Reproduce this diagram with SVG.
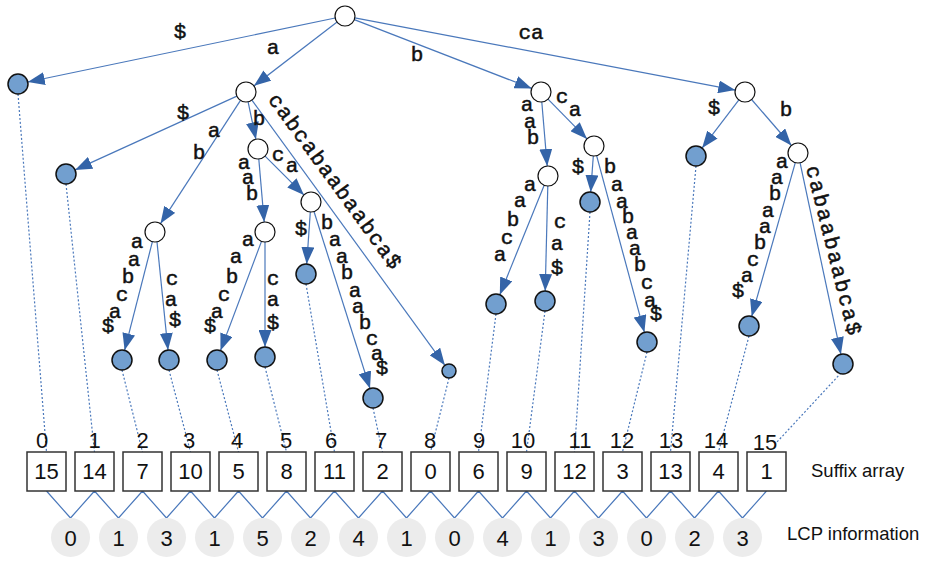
<svg xmlns="http://www.w3.org/2000/svg" width="930" height="571" viewBox="0 0 930 571">
<defs>
<marker id="arr" markerUnits="userSpaceOnUse" markerWidth="17" markerHeight="13" refX="17" refY="6.5" orient="auto">
<path d="M0,0 L17,6.5 L0,13 z" fill="#3464a8"/>
</marker>
<style>
.e{stroke:#4a78bb;stroke-width:1.2;fill:none;marker-end:url(#arr)}
.d{stroke:#4a78bb;stroke-width:1.2;fill:none;stroke-dasharray:2 2}
.z{stroke:#4a78bb;stroke-width:1.2;fill:none}
.in{fill:#fff;stroke:#111;stroke-width:1.2}
.lf{fill:#729fcf;stroke:#111;stroke-width:1.5}
.lb{font-family:"Liberation Mono",monospace;font-size:21px;fill:#111;stroke:#111;stroke-width:0.5;text-anchor:middle;dominant-baseline:central}
.rl{font-family:"Liberation Mono",monospace;font-size:21px;fill:#111;stroke:#111;stroke-width:0.5;text-anchor:middle}
.bx{fill:#fff;stroke:#333;stroke-width:1.5}
.n{font-family:"Liberation Sans",Arial,sans-serif;font-size:22px;fill:#111;text-anchor:middle}
.lc{fill:#ececec}
.cap{font-family:"Liberation Sans",Arial,sans-serif;font-size:18.5px;fill:#111}
</style>
</defs>
<rect width="930" height="571" fill="#fff"/>

<g id="connectors">
<line class="e" x1="335.2" y1="18" x2="27.8" y2="82"/>
<line class="e" x1="337.1" y1="22.1" x2="253.9" y2="85.9"/>
<line class="e" x1="354.3" y1="19.6" x2="531.7" y2="88.4"/>
<line class="e" x1="354.8" y1="17.9" x2="735.2" y2="90.1"/>
<line class="e" x1="236.9" y1="96.1" x2="75.1" y2="169.9"/>
<line class="e" x1="240.5" y1="100.4" x2="160.5" y2="223.6"/>
<line class="e" x1="248.1" y1="101.8" x2="255.9" y2="139.2"/>
<line class="e" x1="251.9" y1="100.1" x2="444.9" y2="365.3"/>
<line class="e" x1="152.4" y1="241.7" x2="124.6" y2="350.3"/>
<line class="e" x1="157" y1="242" x2="168" y2="350"/>
<line class="e" x1="258.8" y1="159" x2="264.2" y2="222"/>
<line class="e" x1="265.1" y1="156.1" x2="303.9" y2="194.9"/>
<line class="e" x1="261.5" y1="241.4" x2="220.5" y2="350.6"/>
<line class="e" x1="265" y1="242" x2="265" y2="347"/>
<line class="e" x1="310.3" y1="212" x2="306.7" y2="264"/>
<line class="e" x1="314" y1="211.5" x2="370" y2="388.5"/>
<line class="e" x1="541.8" y1="102" x2="547.2" y2="166"/>
<line class="e" x1="548" y1="99.1" x2="587" y2="138.9"/>
<line class="e" x1="544.2" y1="185.3" x2="499.8" y2="294.7"/>
<line class="e" x1="547.8" y1="186" x2="545.2" y2="291"/>
<line class="e" x1="593.3" y1="156" x2="590.7" y2="192"/>
<line class="e" x1="596.6" y1="155.7" x2="644.4" y2="332.3"/>
<line class="e" x1="738.9" y1="99.9" x2="702.1" y2="148.1"/>
<line class="e" x1="751.6" y1="99.5" x2="791.4" y2="145.5"/>
<line class="e" x1="795.3" y1="162.6" x2="751.7" y2="316.4"/>
<line class="e" x1="800.1" y1="162.8" x2="840.9" y2="354.2"/>

<line class="d" x1="18" y1="94" x2="46.5" y2="452"/>
<line class="d" x1="66" y1="184" x2="94.5" y2="452"/>
<line class="d" x1="122" y1="370" x2="142.5" y2="452"/>
<line class="d" x1="169" y1="370" x2="190.5" y2="452"/>
<line class="d" x1="217" y1="370" x2="238.5" y2="452"/>
<line class="d" x1="265" y1="367" x2="286.5" y2="452"/>
<line class="d" x1="306" y1="284" x2="334.5" y2="452"/>
<line class="d" x1="373" y1="408" x2="382.5" y2="452"/>
<line class="d" x1="449" y1="378" x2="430.5" y2="452"/>
<line class="d" x1="496" y1="314" x2="478.5" y2="452"/>
<line class="d" x1="545" y1="311" x2="526.5" y2="452"/>
<line class="d" x1="590" y1="212" x2="574.5" y2="452"/>
<line class="d" x1="647" y1="352" x2="622.5" y2="452"/>
<line class="d" x1="696" y1="166" x2="670.5" y2="452"/>
<line class="d" x1="749" y1="336" x2="718.5" y2="452"/>
<line class="d" x1="841" y1="373" x2="777" y2="442"/>

<polyline class="z" points="46.5,491 70.5,518 94.5,491 118.5,518 142.5,491 166.5,518 190.5,491 214.5,518 238.5,491 262.5,518 286.5,491 310.5,518 334.5,491 358.5,518 382.5,491 406.5,518 430.5,491 454.5,518 478.5,491 502.5,518 526.5,491 550.5,518 574.5,491 598.5,518 622.5,491 646.5,518 670.5,491 694.5,518 718.5,491 742.5,518 766.5,491"/>
</g>

<g id="edge-labels">
<text class="lb" x="180" y="32">$</text>
<text class="lb" x="273" y="48">a</text>
<text class="lb" x="417" y="55">b</text>
<text class="lb" x="531" y="33">ca</text>
<text class="lb" x="183" y="113">$</text>
<text class="lb" x="214" y="131">a</text>
<text class="lb" x="199" y="153">b</text>
<text class="lb" x="259" y="119">b</text>
<text class="lb" x="244" y="163">a</text>
<text class="lb" x="248" y="178">a</text>
<text class="lb" x="252" y="194">b</text>
<text class="lb" x="278" y="155">c</text>
<text class="lb" x="292" y="166">a</text>
<text class="lb" x="137" y="242">a</text>
<text class="lb" x="134" y="260">a</text>
<text class="lb" x="128" y="277">b</text>
<text class="lb" x="122" y="295">c</text>
<text class="lb" x="115" y="312">a</text>
<text class="lb" x="108" y="326">$</text>
<text class="lb" x="172" y="279">c</text>
<text class="lb" x="171" y="300">a</text>
<text class="lb" x="175" y="320">$</text>
<text class="lb" x="248" y="240">a</text>
<text class="lb" x="236" y="257">a</text>
<text class="lb" x="232" y="277">b</text>
<text class="lb" x="224" y="295">c</text>
<text class="lb" x="217" y="312">a</text>
<text class="lb" x="210" y="326">$</text>
<text class="lb" x="273" y="279">c</text>
<text class="lb" x="273" y="300">a</text>
<text class="lb" x="273" y="323">$</text>
<text class="lb" x="301" y="229">$</text>
<text class="lb" x="327" y="223">b</text>
<text class="lb" x="335" y="240">a</text>
<text class="lb" x="342" y="257">a</text>
<text class="lb" x="347" y="273">b</text>
<text class="lb" x="355" y="291">a</text>
<text class="lb" x="358" y="307">a</text>
<text class="lb" x="365" y="323">b</text>
<text class="lb" x="372" y="339">c</text>
<text class="lb" x="377" y="354">a</text>
<text class="lb" x="382" y="368">$</text>
<text class="lb" x="527" y="105">a</text>
<text class="lb" x="530" y="122">a</text>
<text class="lb" x="533" y="138">b</text>
<text class="lb" x="562" y="97">c</text>
<text class="lb" x="575" y="110">a</text>
<text class="lb" x="530" y="185">a</text>
<text class="lb" x="520" y="201">a</text>
<text class="lb" x="513" y="220">b</text>
<text class="lb" x="507" y="238">c</text>
<text class="lb" x="500" y="255">a</text>
<text class="lb" x="560" y="222">c</text>
<text class="lb" x="557" y="244">a</text>
<text class="lb" x="557" y="268">$</text>
<text class="lb" x="578" y="167">$</text>
<text class="lb" x="610" y="167">b</text>
<text class="lb" x="617" y="185">a</text>
<text class="lb" x="622" y="202">a</text>
<text class="lb" x="628" y="217">b</text>
<text class="lb" x="632" y="233">a</text>
<text class="lb" x="635" y="249">a</text>
<text class="lb" x="640" y="265">b</text>
<text class="lb" x="647" y="283">c</text>
<text class="lb" x="650" y="301">a</text>
<text class="lb" x="656" y="314">$</text>
<text class="lb" x="714" y="108">$</text>
<text class="lb" x="786" y="110">b</text>
<text class="lb" x="782" y="162">a</text>
<text class="lb" x="777" y="178">a</text>
<text class="lb" x="775" y="194">b</text>
<text class="lb" x="768" y="211">a</text>
<text class="lb" x="765" y="227">a</text>
<text class="lb" x="760" y="243">b</text>
<text class="lb" x="753" y="260">c</text>
<text class="lb" x="747" y="276">a</text>
<text class="lb" x="738" y="291">$</text>
<text class="rl" transform="translate(329.6,185.2) rotate(54)" textLength="211" lengthAdjust="spacing">cabcabaabaabca$</text>
<text class="rl" transform="translate(827.2,251.8) rotate(75.9)" textLength="174" lengthAdjust="spacing">cabaabaabca$</text>
</g>

<g id="n-root"><circle class="in" cx="345" cy="16" r="10"/></g>
<g id="n-a"><circle class="in" cx="246" cy="92" r="10"/></g>
<g id="n-aab"><circle class="in" cx="155" cy="232" r="10"/></g>
<g id="n-ab"><circle class="in" cx="258" cy="149" r="10"/></g>
<g id="n-abaab"><circle class="in" cx="265" cy="232" r="10"/></g>
<g id="n-abca"><circle class="in" cx="311" cy="202" r="10"/></g>
<g id="n-b"><circle class="in" cx="541" cy="92" r="10"/></g>
<g id="n-baab"><circle class="in" cx="548" cy="176" r="10"/></g>
<g id="n-bca"><circle class="in" cx="594" cy="146" r="10"/></g>
<g id="n-ca"><circle class="in" cx="745" cy="92" r="10"/></g>
<g id="n-cab"><circle class="in" cx="798" cy="153" r="10"/></g>

<g id="leaf-15"><circle class="lf" cx="18" cy="84" r="10"/></g>
<g id="leaf-14"><circle class="lf" cx="66" cy="174" r="10"/></g>
<g id="leaf-7"><circle class="lf" cx="122" cy="360" r="10"/></g>
<g id="leaf-10"><circle class="lf" cx="169" cy="360" r="10"/></g>
<g id="leaf-5"><circle class="lf" cx="217" cy="360" r="10"/></g>
<g id="leaf-8"><circle class="lf" cx="265" cy="357" r="10"/></g>
<g id="leaf-11"><circle class="lf" cx="306" cy="274" r="10"/></g>
<g id="leaf-2"><circle class="lf" cx="373" cy="398" r="10"/></g>
<g id="leaf-0"><circle class="lf" cx="449" cy="371" r="7"/></g>
<g id="leaf-6"><circle class="lf" cx="496" cy="304" r="10"/></g>
<g id="leaf-9"><circle class="lf" cx="545" cy="301" r="10"/></g>
<g id="leaf-12"><circle class="lf" cx="590" cy="202" r="10"/></g>
<g id="leaf-3"><circle class="lf" cx="647" cy="342" r="10"/></g>
<g id="leaf-13"><circle class="lf" cx="696" cy="156" r="10"/></g>
<g id="leaf-4"><circle class="lf" cx="749" cy="326" r="10"/></g>
<g id="leaf-1"><circle class="lf" cx="843" cy="364" r="10"/></g>

<g id="suffix-array">
<text class="n" x="42" y="448">0</text>
<text class="n" x="94.5" y="448">1</text>
<text class="n" x="142.5" y="448">2</text>
<text class="n" x="189" y="448">3</text>
<text class="n" x="237" y="448">4</text>
<text class="n" x="286" y="448">5</text>
<text class="n" x="331" y="448">6</text>
<text class="n" x="381" y="448">7</text>
<text class="n" x="430" y="448">8</text>
<text class="n" x="479" y="448">9</text>
<text class="n" x="523" y="448">10</text>
<text class="n" x="580" y="448">11</text>
<text class="n" x="622" y="448">12</text>
<text class="n" x="671" y="448">13</text>
<text class="n" x="716" y="448">14</text>
<text class="n" x="765" y="450">15</text>
<rect class="bx" x="27" y="452" width="39" height="39"/>
<rect class="bx" x="75" y="452" width="39" height="39"/>
<rect class="bx" x="123" y="452" width="39" height="39"/>
<rect class="bx" x="171" y="452" width="39" height="39"/>
<rect class="bx" x="219" y="452" width="39" height="39"/>
<rect class="bx" x="267" y="452" width="39" height="39"/>
<rect class="bx" x="315" y="452" width="39" height="39"/>
<rect class="bx" x="363" y="452" width="39" height="39"/>
<rect class="bx" x="411" y="452" width="39" height="39"/>
<rect class="bx" x="459" y="452" width="39" height="39"/>
<rect class="bx" x="507" y="452" width="39" height="39"/>
<rect class="bx" x="555" y="452" width="39" height="39"/>
<rect class="bx" x="603" y="452" width="39" height="39"/>
<rect class="bx" x="651" y="452" width="39" height="39"/>
<rect class="bx" x="699" y="452" width="39" height="39"/>
<rect class="bx" x="747" y="452" width="39" height="39"/>
<text class="n" x="46.5" y="479">15</text>
<text class="n" x="94.5" y="479">14</text>
<text class="n" x="142.5" y="479">7</text>
<text class="n" x="190.5" y="479">10</text>
<text class="n" x="238.5" y="479">5</text>
<text class="n" x="286.5" y="479">8</text>
<text class="n" x="334.5" y="479">11</text>
<text class="n" x="382.5" y="479">2</text>
<text class="n" x="430.5" y="479">0</text>
<text class="n" x="478.5" y="479">6</text>
<text class="n" x="526.5" y="479">9</text>
<text class="n" x="574.5" y="479">12</text>
<text class="n" x="622.5" y="479">3</text>
<text class="n" x="670.5" y="479">13</text>
<text class="n" x="718.5" y="479">4</text>
<text class="n" x="766.5" y="479">1</text>
<text class="cap" x="811" y="477">Suffix array</text>
</g>

<g id="lcp">
<circle class="lc" cx="70.5" cy="537.5" r="19.5"/>
<circle class="lc" cx="118.5" cy="537.5" r="19.5"/>
<circle class="lc" cx="166.5" cy="537.5" r="19.5"/>
<circle class="lc" cx="214.5" cy="537.5" r="19.5"/>
<circle class="lc" cx="262.5" cy="537.5" r="19.5"/>
<circle class="lc" cx="310.5" cy="537.5" r="19.5"/>
<circle class="lc" cx="358.5" cy="537.5" r="19.5"/>
<circle class="lc" cx="406.5" cy="537.5" r="19.5"/>
<circle class="lc" cx="454.5" cy="537.5" r="19.5"/>
<circle class="lc" cx="502.5" cy="537.5" r="19.5"/>
<circle class="lc" cx="550.5" cy="537.5" r="19.5"/>
<circle class="lc" cx="598.5" cy="537.5" r="19.5"/>
<circle class="lc" cx="646.5" cy="537.5" r="19.5"/>
<circle class="lc" cx="694.5" cy="537.5" r="19.5"/>
<circle class="lc" cx="742.5" cy="537.5" r="19.5"/>
<text class="n" x="70.5" y="546">0</text>
<text class="n" x="118.5" y="546">1</text>
<text class="n" x="166.5" y="546">3</text>
<text class="n" x="214.5" y="546">1</text>
<text class="n" x="262.5" y="546">5</text>
<text class="n" x="310.5" y="546">2</text>
<text class="n" x="358.5" y="546">4</text>
<text class="n" x="406.5" y="546">1</text>
<text class="n" x="454.5" y="546">0</text>
<text class="n" x="502.5" y="546">4</text>
<text class="n" x="550.5" y="546">1</text>
<text class="n" x="598.5" y="546">3</text>
<text class="n" x="646.5" y="546">0</text>
<text class="n" x="694.5" y="546">2</text>
<text class="n" x="742.5" y="546">3</text>
<text class="cap" x="787" y="540">LCP information</text>
</g>
</svg>
